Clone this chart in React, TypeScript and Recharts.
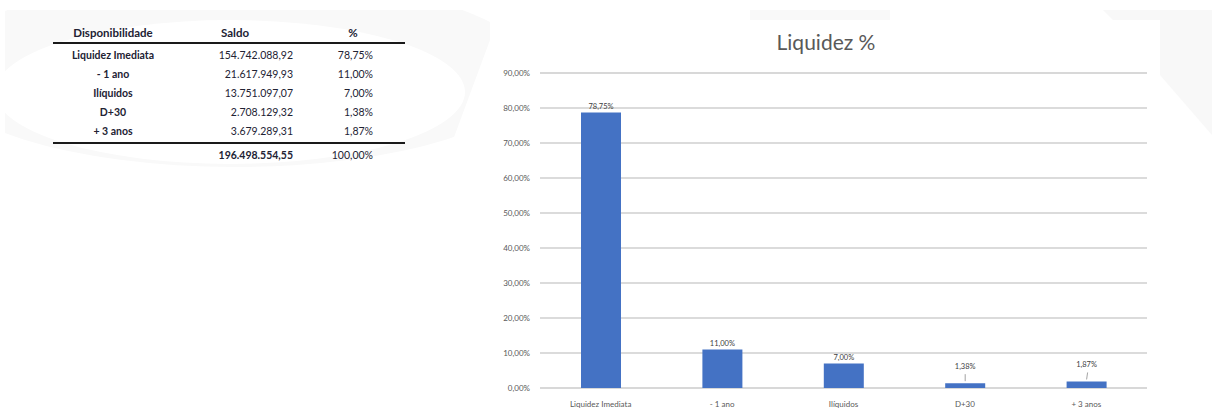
import React from "react";
import {
  BarChart,
  Bar,
  XAxis,
  YAxis,
  CartesianGrid,
  LabelList,
} from "recharts";

const categories = ["Liquidez Imediata", "- 1 ano", "Ilíquidos", "D+30", "+ 3 anos"];
const tableLabels = ["Liquidez Imediata", "- 1 ano", "Ilíquidos", "D+30", "+ 3 anos"];
const saldos = [154742088.92, 21617949.93, 13751097.07, 2708129.32, 3679289.31];
const percents = [78.75, 11.0, 7.0, 1.38, 1.87];
const majorTicks = [0, 10, 20, 30, 40, 50, 60, 70, 80, 90];
const minorTicks = [
  0, 2, 4, 6, 8, 10, 12, 14, 16, 18, 20, 22, 24, 26, 28, 30, 32, 34, 36, 38, 40,
  42, 44, 46, 48, 50, 52, 54, 56, 58, 60, 62, 64, 66, 68, 70, 72, 74, 76, 78, 80,
  82, 84, 86, 88, 90,
];

const FONT = "Lato, 'Open Sans', sans-serif";

const fmtPct = (v: number) => v.toFixed(2).replace(".", ",") + "%";

const fmtMoney = (v: number) => {
  const [int, dec] = v.toFixed(2).split(".");
  return int.replace(/\B(?=(\d{3})+(?!\d))/g, ".") + "," + dec;
};

const data = categories.map((name, i) => ({ name, value: percents[i] }));
const total = saldos.reduce((a, b) => a + b, 0);

const CHART_W = 700;
const CHART_H = 430;
const MARGIN = { top: 73, right: 23, left: 10, bottom: 12 };

const BarLabel = (props: any) => {
  const { x, y, width, value } = props;
  const cx = x + width / 2;
  const small = value < 2;
  const lift = small ? 16 : 5;
  return (
    <g>
      {small && (
        <line
          x1={cx}
          y1={y - 2}
          x2={cx + (value > 1.5 ? 1 : 0)}
          y2={y - 9}
          stroke="#8c8c8c"
          strokeWidth={0.8}
        />
      )}
      <text
        x={cx}
        y={y - lift}
        textAnchor="middle"
        dominantBaseline="middle"
        fontSize={7.5}
        fontFamily={FONT}
        fill="#404040"
      >
        {fmtPct(value)}
      </text>
    </g>
  );
};

function Background() {
  return (
    <svg
      width={1212}
      height={408}
      style={{ position: "absolute", left: 0, top: 0 }}
    >
      <defs>
        <clipPath id="leftClip">
          <polygon points="5,10 538,10 490,22 490,40 440,175 5,175" />
        </clipPath>
      </defs>
      <g clipPath="url(#leftClip)">
        <ellipse cx={235} cy={72} rx={300} ry={95} fill="#f9f9f9" />
        <ellipse cx={230} cy={92} rx={235} ry={72} fill="#ffffff" />
      </g>
      <rect x={750} y={10} width={140} height={10} fill="#f9f9f9" />
      <polygon
        points="1103,10 1212,10 1212,135 1160,75 1160,20 1113,20"
        fill="#f8f8f8"
      />
    </svg>
  );
}

function Table() {
  const text: React.CSSProperties = {
    position: "absolute",
    fontFamily: FONT,
    fontSize: 10.5,
    lineHeight: "16px",
    color: "#222233",
    whiteSpace: "nowrap",
  };
  const rowTop = (i: number) => 47 + i * 19;
  return (
    <div>
      <div style={{ ...text, left: 53, top: 25, width: 120, textAlign: "center", fontWeight: 700, fontSize: 11.5 }}>
        Disponibilidade
      </div>
      <div style={{ ...text, left: 195, top: 25, width: 80, textAlign: "center", fontWeight: 700, fontSize: 11.5 }}>
        Saldo
      </div>
      <div style={{ ...text, left: 323, top: 25, width: 60, textAlign: "center", fontWeight: 700, fontSize: 11.5 }}>
        %
      </div>
      <div style={{ position: "absolute", left: 53, top: 42, width: 352, height: 2, background: "#1a1a1a" }} />
      {tableLabels.map((label, i) => (
        <React.Fragment key={label}>
          <div style={{ ...text, left: 53, top: rowTop(i), width: 120, textAlign: "center", fontWeight: 700 }}>
            {label}
          </div>
          <div style={{ ...text, left: 183, top: rowTop(i), width: 110, textAlign: "right" }}>
            {fmtMoney(saldos[i])}
          </div>
          <div style={{ ...text, left: 303, top: rowTop(i), width: 70, textAlign: "right" }}>
            {fmtPct(percents[i])}
          </div>
        </React.Fragment>
      ))}
      <div style={{ position: "absolute", left: 53, top: 142, width: 352, height: 2, background: "#1a1a1a" }} />
      <div style={{ ...text, left: 183, top: 147, width: 110, textAlign: "right", fontWeight: 700 }}>
        {fmtMoney(total)}
      </div>
      <div style={{ ...text, left: 303, top: 147, width: 70, textAlign: "right" }}>
        {fmtPct(100)}
      </div>
    </div>
  );
}

const axisTick = { fontSize: 8, fill: "#595959", fontFamily: FONT };

export default function App() {
  return (
    <div
      style={{
        position: "absolute",
        left: 0,
        top: 0,
        width: 1212,
        height: 408,
        overflow: "hidden",
        background: "#ffffff",
      }}
    >
      <Background />
      <Table />
      <div
        style={{
          position: "absolute",
          left: 726,
          top: 28,
          width: 200,
          textAlign: "center",
          fontFamily: FONT,
          fontSize: 21,
          lineHeight: "28px",
          color: "#595959",
        }}
      >
        Liquidez %
      </div>
      {/* grade secundária (2%) atrás do gráfico principal */}
      <div style={{ position: "absolute", left: 470, top: 0 }}>
        <BarChart width={CHART_W} height={CHART_H} data={data} margin={MARGIN} barSize={40}>
          <CartesianGrid vertical={false} stroke="#e4e4e4" strokeWidth={1} />
          <XAxis dataKey="name" height={30} axisLine={false} tickLine={false} tick={false} />
          <YAxis
            type="number"
            domain={[0, 90]}
            ticks={minorTicks}
            interval={0}
            width={60}
            axisLine={false}
            tickLine={false}
            tick={false}
          />
          <Bar dataKey="value" fill="transparent" isAnimationActive={false} />
        </BarChart>
      </div>
      <div style={{ position: "absolute", left: 470, top: 0 }}>
        <BarChart
          width={CHART_W}
          height={CHART_H}
          data={data}
          margin={MARGIN}
          barSize={40}
        >
          <CartesianGrid vertical={false} stroke="#cfcfcf" strokeWidth={1.5} />
          <XAxis
            dataKey="name"
            axisLine={false}
            tickLine={false}
            tickSize={0}
            tickMargin={13}
            height={30}
            interval={0}
            tick={axisTick}
          />
          <YAxis
            type="number"
            domain={[0, 90]}
            ticks={majorTicks}
            interval={0}
            axisLine={false}
            tickLine={false}
            tickSize={0}
            tickMargin={10}
            width={60}
            tickFormatter={fmtPct}
            tick={axisTick}
          />
          <Bar dataKey="value" fill="#4472c4" isAnimationActive={false}>
            <LabelList dataKey="value" content={BarLabel} />
          </Bar>
        </BarChart>
      </div>
    </div>
  );
}
